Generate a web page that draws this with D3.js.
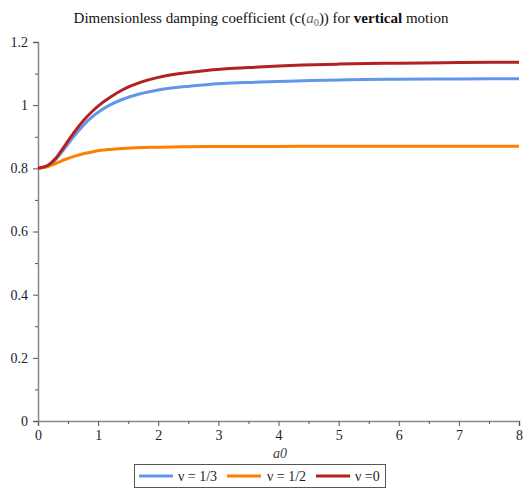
<!DOCTYPE html>
<html>
<head>
<meta charset="utf-8">
<script src="https://cdn.jsdelivr.net/npm/d3@7"></script>
<style>
body{margin:0;background:#fff;}
svg{display:block;font-family:"Liberation Serif","Times New Roman",serif;}
</style>
</head>
<body>
<svg id="chart" width="526" height="488"></svg>
<script>
const xValues = [0, 0.15, 0.3, 0.45, 0.6, 0.75, 0.9, 1.05, 1.2, 1.4, 1.7, 2.0, 2.4, 2.8, 3.5, 4.4, 5, 6, 7, 8];
const nuThird = [0.800, 0.806, 0.829, 0.865, 0.902, 0.935, 0.963, 0.984, 1.001, 1.018, 1.036, 1.048, 1.058, 1.065, 1.072, 1.077, 1.080, 1.082, 1.083, 1.084];
const nuHalf  = [0.800, 0.805, 0.816, 0.828, 0.838, 0.846, 0.852, 0.857, 0.860, 0.863, 0.866, 0.867, 0.868, 0.869, 0.869, 0.870, 0.870, 0.870, 0.870, 0.870];
const nuZero  = [0.800, 0.808, 0.833, 0.873, 0.914, 0.950, 0.980, 1.005, 1.025, 1.048, 1.072, 1.088, 1.101, 1.110, 1.119, 1.127, 1.130, 1.133, 1.135, 1.136];
const seriesNames = ["ν = 1/3", "ν = 1/2", "ν =0"];
const seriesColors = ["#6495ED", "#FF8000", "#B22222"];
const xTicks = [0,1,2,3,4,5,6,7,8];
const yTicks = [0,0.2,0.4,0.6,0.8,1,1.2];
const yTickLabels = ["0","0.2","0.4","0.6","0.8","1","1.2"];

const svg = d3.select("#chart");
const x = d3.scaleLinear().domain([0,8]).range([38,519]);
const y = d3.scaleLinear().domain([0,1.2]).range([421,42]);
const axisColor = "#888";
const textColor = "#1c1c2c";

// Title
const title = svg.append("text").attr("x",261).attr("y",23).attr("text-anchor","middle")
  .attr("font-size",15).attr("fill","#111");
title.append("tspan").text("Dimensionless damping coefficient  (c(");
title.append("tspan").attr("font-style","italic").attr("fill","#666").text("a");
title.append("tspan").attr("fill","#666").attr("font-size",10.5).attr("dy",3).text("0");
title.append("tspan").attr("dy",-3).text(")) for ");
title.append("tspan").attr("font-weight","bold").text("vertical");
title.append("tspan").text(" motion");

// Axes
const xMinor = d3.range(0.5,8,1);
const yMinor = d3.range(0.1,1.2,0.2);
const gx = svg.append("g").attr("transform",`translate(0,${y(0)})`)
  .call(d3.axisBottom(x).tickValues(xTicks).tickSize(5).tickPadding(4).tickFormat(d3.format("d")));
gx.selectAll("text").attr("font-size",14).attr("fill",textColor).attr("font-family","Liberation Serif, serif");
svg.append("g").attr("transform",`translate(0,${y(0)})`)
  .call(d3.axisBottom(x).tickValues(xMinor).tickSize(3).tickFormat(""))
  .select(".domain").remove();

const gy = svg.append("g").attr("transform",`translate(${x(0)},0)`)
  .call(d3.axisLeft(y).tickValues(yTicks).tickSize(5).tickPadding(5).tickFormat((d,i)=>yTickLabels[i]));
gy.selectAll("text").attr("font-size",14).attr("fill",textColor).attr("font-family","Liberation Serif, serif");
svg.append("g").attr("transform",`translate(${x(0)},0)`)
  .call(d3.axisLeft(y).tickValues(yMinor).tickSize(3).tickFormat(""))
  .select(".domain").remove();

svg.selectAll(".domain").attr("stroke",axisColor).attr("stroke-width",1.5);
svg.selectAll(".tick line").attr("stroke","#555").attr("stroke-width",1);

// x-axis label
svg.append("text").attr("x",280).attr("y",458).attr("text-anchor","middle")
  .attr("font-size",14).attr("font-style","italic").attr("fill","#444").text("a0");

// Lines
const seriesData = [nuThird, nuHalf, nuZero];
const line = d3.line().x((d,i)=>x(xValues[i])).y(d=>y(d)).curve(d3.curveMonotoneX);
seriesData.forEach((s,k)=>{
  svg.append("path").datum(s).attr("d",line).attr("fill","none")
    .attr("stroke",seriesColors[k]).attr("stroke-width",3).attr("stroke-linejoin","round");
});

// Legend
const lg = svg.append("g");
lg.append("rect").attr("x",134.5).attr("y",464.5).attr("width",251).attr("height",23)
  .attr("fill","#fff").attr("stroke","#555").attr("stroke-width",1);
const items = [{lx:139,tx:178},{lx:227,tx:267},{lx:316,tx:355}];
items.forEach((it,k)=>{
  lg.append("line").attr("x1",it.lx).attr("x2",it.lx+34).attr("y1",476).attr("y2",476)
    .attr("stroke",seriesColors[k]).attr("stroke-width",3);
  lg.append("text").attr("x",it.tx).attr("y",481).attr("font-size",14).attr("fill",textColor)
    .text(seriesNames[k]);
});
</script>
</body>
</html>
